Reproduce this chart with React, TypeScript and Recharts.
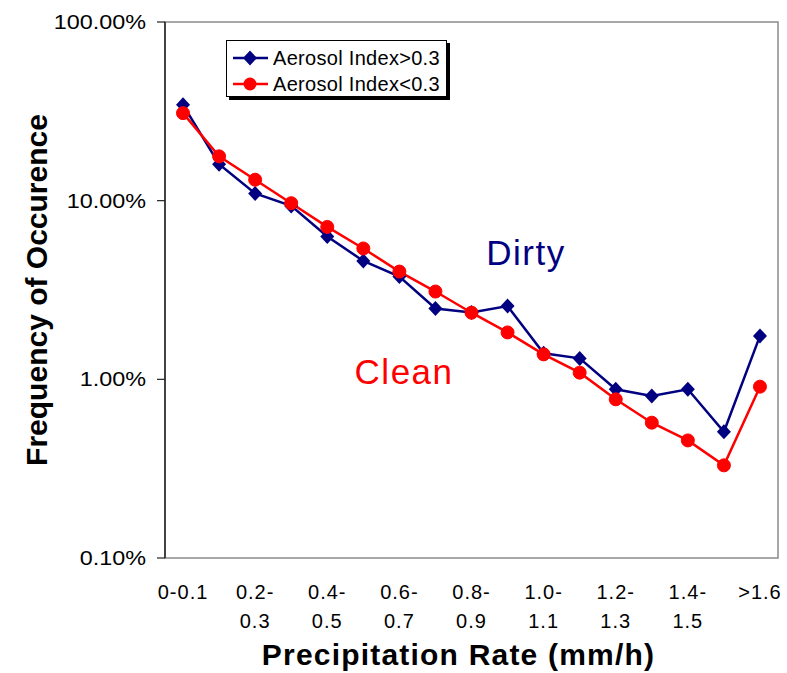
import React from "react";
import { LineChart, Line, XAxis, YAxis, ReferenceArea, ReferenceDot, Legend } from "recharts";

const categories = [
  "0-0.1", "0.1-0.2", "0.2-0.3", "0.3-0.4", "0.4-0.5", "0.5-0.6", "0.6-0.7", "0.7-0.8", "0.8-0.9",
  "0.9-1.0", "1.0-1.1", "1.1-1.2", "1.2-1.3", "1.3-1.4", "1.4-1.5", "1.5-1.6", ">1.6",
];
// frequency of occurence, %
const dirty = [34.4, 16.0, 10.97, 9.35, 6.3, 4.6, 3.76, 2.49, 2.37, 2.57, 1.4, 1.31, 0.88, 0.806, 0.88, 0.509, 1.75];
const clean = [30.9, 17.7, 13.1, 9.68, 7.13, 5.4, 4.01, 3.1, 2.36, 1.83, 1.38, 1.09, 0.773, 0.572, 0.455, 0.33, 0.91];
const yTicks = [0.1, 1, 10, 100];
const legendNames = ["Aerosol Index>0.3", "Aerosol Index<0.3"];
const NAVY = "#000080";
const RED = "#ff0000";
const AXIS = "#222";
const FONT = "'Liberation Sans', Arial, Helvetica, sans-serif";

const data = categories.map((c, i) => ({ x: i + 0.5, name: c, dirty: dirty[i], clean: clean[i] }));
const boundaryTicks = [...categories.map((_, i) => i), categories.length];
const labelTicks = categories.map((_, i) => i + 0.5).filter((_, i) => i % 2 === 0);

function CatTick({ x, y, payload }: any) {
  const name = categories[Math.floor(payload.value)];
  const cut = name.indexOf("-") + 1;
  const lines = name.length > 5 ? [name.slice(0, cut), name.slice(cut)] : [name];
  return (
    <text textAnchor="middle" fontSize={20} fontFamily={FONT} style={{ letterSpacing: "1px" }} fill="#000">
      {lines.map((l, i) => (
        <tspan key={i} x={x} y={y + 41 + i * 29}>{l}</tspan>
      ))}
    </text>
  );
}

// the source glyphs are a little wider than Arial, so stretch them sideways
function PctTick({ x, y, payload }: any) {
  return (
    <text transform={`translate(${x} ${y}) scale(1.17 1)`} x={0} y={7} textAnchor="end" fontSize={20} fontFamily={FONT} fill="#000">
      {payload.value.toFixed(2)}%
    </text>
  );
}

function Diamond({ cx, cy }: any) {
  if (cx == null || cy == null) return null;
  return <path d={`M${cx},${cy - 7.5}L${cx + 7},${cy}L${cx},${cy + 7.5}L${cx - 7},${cy}Z`} fill={NAVY} />;
}

function YTitle({ viewBox }: any) {
  const cx = 47;
  const cy = viewBox.y + viewBox.height / 2;
  return (
    <text x={cx} y={cy} transform={`rotate(-90 ${cx} ${cy})`} textAnchor="middle" fontSize={30} fontWeight="bold" fontFamily={FONT} fill="#000">
      Frequency of Occurence
    </text>
  );
}

function XTitle({ viewBox }: any) {
  return (
    <text x={viewBox.x + viewBox.width / 2 - 13} y={viewBox.y + 107} textAnchor="middle" fontSize={30} fontWeight="bold" fontFamily={FONT} style={{ letterSpacing: "1.2px" }} fill="#000">
      Precipitation Rate (mm/h)
    </text>
  );
}

function LegendBox() {
  const colors = [NAVY, RED];
  return (
    <div
      style={{
        boxSizing: "border-box",
        width: 221,
        height: 57,
        paddingTop: 4,
        background: "#fff",
        border: "1px solid #000",
        boxShadow: "3px 3px 0 #000",
        fontFamily: FONT,
        fontSize: 20,
        color: "#000",
      }}
    >
      {legendNames.map((n, i) => (
        <div key={n} style={{ display: "flex", alignItems: "center", height: 26 }}>
          <svg width={36} height={26} style={{ marginLeft: 6 }}>
            <line x1={0} y1={13} x2={35} y2={13} stroke={colors[i]} strokeWidth={2.5} />
            {i === 0 ? <Diamond cx={17} cy={13} /> : <circle cx={17} cy={13} r={6.5} fill={RED} />}
          </svg>
          <span style={{ marginLeft: 4, letterSpacing: 0.3, whiteSpace: "nowrap" }}>{n}</span>
        </div>
      ))}
    </div>
  );
}

export default function App() {
  return (
    <div style={{ position: "absolute", left: 0, top: 0, background: "#fff" }}>
      <LineChart width={787} height={673} data={data} margin={{ top: 22, right: 9, left: 0, bottom: 15 }}>
        <XAxis
          xAxisId="b"
          dataKey="x"
          type="number"
          domain={[0, categories.length]}
          allowDataOverflow
          ticks={boundaryTicks}
          interval={0}
          height={0}
          tickSize={7}
          tickFormatter={() => ""}
          axisLine={{ stroke: AXIS, strokeWidth: 1.5 }}
          tickLine={{ stroke: AXIS, strokeWidth: 1.2 }}
        />
        <XAxis
          xAxisId="l"
          dataKey="x"
          type="number"
          domain={[0, categories.length]}
          allowDataOverflow
          ticks={labelTicks}
          interval={0}
          height={100}
          tickSize={0}
          tickMargin={0}
          axisLine={false}
          tickLine={false}
          tick={<CatTick />}
          label={<XTitle />}
        />
        <YAxis
          type="number"
          scale="log"
          domain={[0.1, 100]}
          allowDataOverflow
          ticks={yTicks}
          interval={0}
          width={165}
          tickSize={8}
          tickMargin={11}
          axisLine={{ stroke: AXIS, strokeWidth: 1.5 }}
          tickLine={{ stroke: AXIS, strokeWidth: 1.2 }}
          tick={<PctTick />}
          label={<YTitle />}
        />
        <ReferenceArea xAxisId="l" x1={0} x2={categories.length} y1={0.1} y2={100} fill="none" stroke="#8a8a8a" strokeWidth={1.5} ifOverflow="visible" />
        <Legend layout="vertical" align="center" verticalAlign="middle" wrapperStyle={{ left: 226, top: 40, width: "auto" }} content={<LegendBox />} />
        <Line xAxisId="l" dataKey="dirty" stroke={NAVY} strokeWidth={2.5} dot={<Diamond />} activeDot={false} isAnimationActive={false} />
        <Line xAxisId="l" dataKey="clean" stroke={RED} strokeWidth={2.5} dot={{ r: 6.5, fill: RED, stroke: RED, strokeWidth: 1 }} activeDot={false} isAnimationActive={false} />
        <ReferenceDot xAxisId="l" x={10.01} y={5.15} r={0} fill="none" stroke="none" label={{ value: "Dirty", fill: NAVY, fontSize: 35, letterSpacing: 1.5, fontFamily: FONT }} />
        <ReferenceDot xAxisId="l" x={6.63} y={1.1} r={0} fill="none" stroke="none" label={{ value: "Clean", fill: RED, fontSize: 35, letterSpacing: 1.5, fontFamily: FONT }} />
      </LineChart>
    </div>
  );
}
